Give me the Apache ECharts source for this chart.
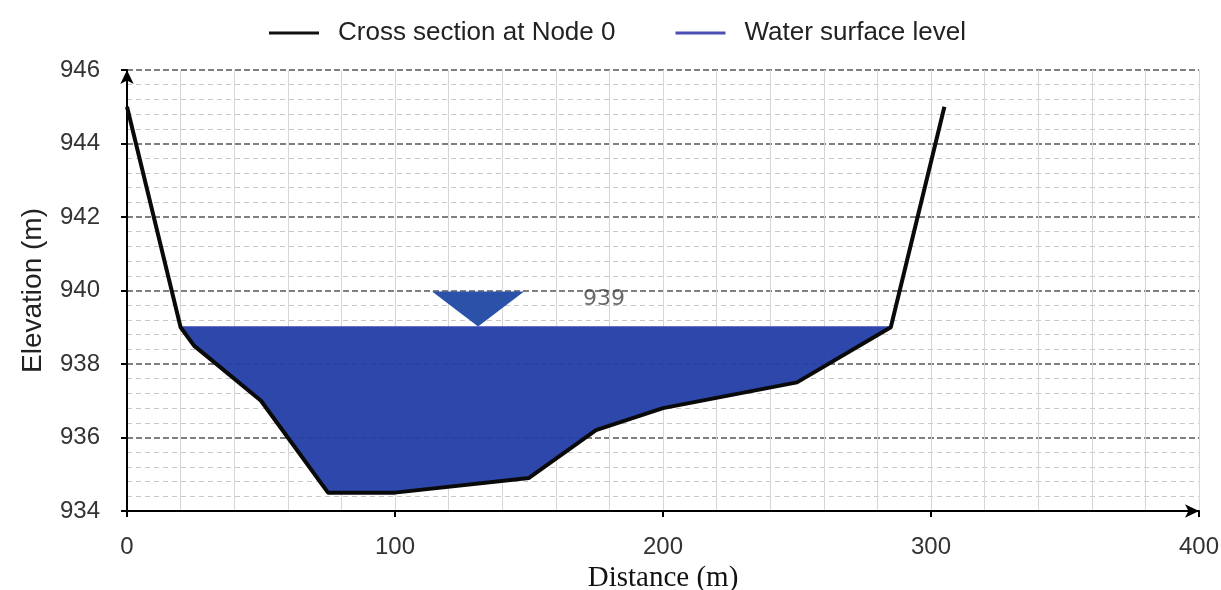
<!DOCTYPE html>
<html>
<head>
<meta charset="utf-8">
<script src="https://cdn.jsdelivr.net/npm/echarts@6/dist/echarts.min.js"></script>
<style>
  html, body { margin: 0; padding: 0; background: #fff; }
  #chart { width: 1221px; height: 590px; }
</style>
</head>
<body>
<div id="chart"></div>
<script>
// cross section at node 0 (distance m, elevation m)
var distance = [0, 20, 25, 50, 75, 100, 150, 175, 200, 250, 285, 305];
var elevation = [945, 939, 938.5, 937, 934.5, 934.5, 934.9, 936.2, 936.8, 937.5, 939, 945];
var waterLevel = 939;
var markerPos = [131, 939.5];
var levelLabelPos = [178, 939.75];
var xTicks = [0, 400, 100];
var yTicks = [934, 946, 2];

var bed = distance.map(function (d, i) { return [d, elevation[i]]; });

// wet part of the section: points at or below the water level between the banks
var wet = bed.filter(function (p, i) {
  return p[1] <= waterLevel && i > 0 && i < bed.length - 1;
});
var waterLine = [wet[0], wet[wet.length - 1]].map(function (p) { return [p[0], waterLevel]; });

var chart = echarts.init(document.getElementById('chart'));

var option = {
  backgroundColor: '#fff',
  animation: false,
  legend: {
    data: ['Cross section at Node 0', 'Water surface level'],
    icon: 'rect',
    left: 264,
    top: 15,
    itemWidth: 50,
    itemHeight: 3,
    itemGap: 60,
    textStyle: {
      fontFamily: 'Liberation Sans',
      fontSize: 26,
      color: '#222',
      padding: [0, 0, 0, 14]
    }
  },
  grid: { left: 127, right: 22, top: 70, bottom: 79, outerBoundsMode: 'none', containLabel: false },
  xAxis: {
    type: 'value',
    min: xTicks[0],
    max: xTicks[1],
    interval: xTicks[2],
    name: 'Distance (m)',
    nameLocation: 'middle',
    nameGap: 51,
    nameTextStyle: { fontFamily: 'Liberation Serif', fontSize: 29, color: '#111' },
    axisLine: {
      lineStyle: { color: '#000', width: 2 },
      symbol: ['none', 'arrow'],
      symbolSize: [10, 14]
    },
    axisTick: { show: true, length: 6, lineStyle: { color: '#000', width: 2 } },
    axisLabel: { fontFamily: 'Liberation Sans', fontSize: 24, color: '#333', margin: 24 },
    splitLine: { show: true, lineStyle: { color: '#d6d6d6', width: 1 } },
    minorTick: { show: false, splitNumber: 5 },
    minorSplitLine: { show: true, lineStyle: { color: '#d6d6d6', width: 1 } }
  },
  yAxis: {
    type: 'value',
    min: yTicks[0],
    max: yTicks[1],
    interval: yTicks[2],
    name: 'Elevation (m)',
    nameLocation: 'middle',
    nameGap: 80,
    nameTextStyle: { fontFamily: 'Liberation Sans', fontSize: 28, color: '#222' },
    axisLine: {
      lineStyle: { color: '#000', width: 2 },
      symbol: ['none', 'arrow'],
      symbolSize: [10, 14]
    },
    axisTick: { show: true, length: 6, lineStyle: { color: '#000', width: 2 } },
    axisLabel: { fontFamily: 'Liberation Sans', fontSize: 24, color: '#333', margin: 27 },
    splitLine: { show: true, lineStyle: { color: '#555', width: 1.5, type: [6, 3] } },
    minorTick: { show: false, splitNumber: 5 },
    minorSplitLine: { show: true, lineStyle: { color: '#c8c8c8', width: 1, type: [5, 4] } }
  },
  series: [
    {
      // water body, drawn as one polygon through the axis scales
      type: 'custom',
      name: 'water',
      silent: true,
      z: 1,
      data: [wet[0]],
      renderItem: function (params, api) {
        var pts = wet.map(function (p) { return api.coord(p); });
        return {
          type: 'polygon',
          shape: { points: pts },
          style: { fill: '#2540a8', opacity: 0.96 }
        };
      }
    },
    {
      name: 'Water surface level',
      type: 'line',
      data: waterLine,
      symbol: 'none',
      z: 3,
      lineStyle: { color: '#3346b4', width: 2 },
      itemStyle: { color: '#4a4fb5' }
    },
    {
      name: 'Cross section at Node 0',
      type: 'line',
      data: bed,
      symbol: 'none',
      z: 4,
      lineStyle: { color: '#0a0a0a', width: 4 },
      itemStyle: { color: '#111' }
    },
    {
      type: 'scatter',
      name: 'marker',
      data: [markerPos],
      symbol: 'triangle',
      symbolRotate: 180,
      symbolSize: [92, 35],
      itemStyle: { color: '#2b52a8', opacity: 1 },
      z: 5
    },
    {
      type: 'scatter',
      name: 'level',
      data: [levelLabelPos],
      symbolSize: 0,
      label: {
        show: true,
        position: 'inside',
        formatter: function () { return String(waterLevel); },
        fontFamily: 'DejaVu Sans',
        fontSize: 22,
        color: '#444'
      },
      z: 5
    }
  ]
};

option && chart.setOption(option);
</script>
</body>
</html>
